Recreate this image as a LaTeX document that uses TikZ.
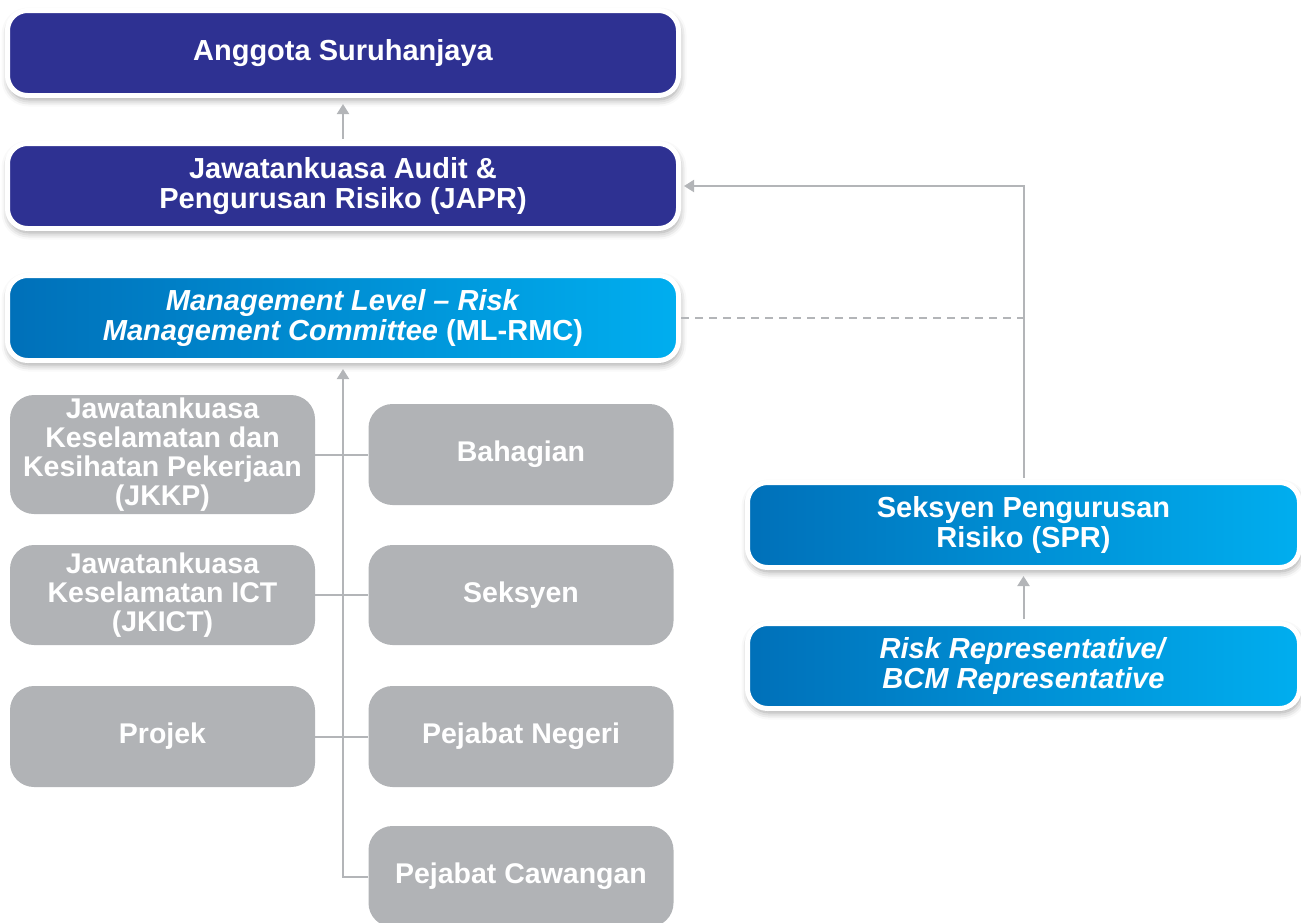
\documentclass[tikz,border=0pt]{standalone}
\usepackage{fontspec}
\setmainfont{Liberation Sans}
\usetikzlibrary{arrows.meta,shadows.blur}
\definecolor{dblue}{HTML}{2E3192}
\definecolor{gbox}{HTML}{B1B3B6}
\definecolor{bleft}{HTML}{0070B9}
\definecolor{bright}{HTML}{00AEEF}
\definecolor{lgrey}{HTML}{B3B5B8}
\tikzset{
  base/.style={align=center, text=white, font=\fontsize{29}{30}\selectfont\bfseries, inner sep=0pt},
  bluebox/.style={base, draw=white, line width=5pt, rounded corners=20pt,
    minimum width=671pt, minimum height=85pt,
    blur shadow={shadow xshift=1pt, shadow yshift=-4pt, shadow blur radius=7pt, shadow opacity=40}},
  darkbox/.style={bluebox, fill=dblue},
  gradbox/.style={bluebox, left color=bleft, right color=bright},
  greybox/.style={base, fill=gbox, rounded corners=24pt, minimum width=305pt,
    font=\fontsize{28.5}{29}\selectfont\bfseries},
  conn/.style={draw=lgrey, line width=2pt},
  arr/.style={conn, -{Triangle[width=12pt,length=10pt]}},
  dashconn/.style={conn, dash pattern=on 8pt off 6pt}
}
\begin{document}
\begin{tikzpicture}[x=1pt,y=-1pt]
\useasboundingbox (0,0) rectangle (1301,922);
% grey boxes
\node[greybox, minimum height=119pt] (jkkp) at (162.5,454.5) {Jawatankuasa\\Keselamatan dan\\Kesihatan Pekerjaan\\(JKKP)};
\node[greybox, minimum height=101pt] (bah) at (521,454.5) {Bahagian};
\node[greybox, minimum height=100pt] (jkict) at (162.5,595) {Jawatankuasa\\Keselamatan ICT\\(JKICT)};
\node[greybox, minimum height=100pt] (sek) at (521,595) {Seksyen};
\node[greybox, minimum height=101pt] (proj) at (162.5,736.5) {Projek};
\node[greybox, minimum height=101pt] (neg) at (521,736.5) {Pejabat Negeri};
\node[greybox, minimum height=101pt] (caw) at (521,876.5) {Pejabat Cawangan};
% blue boxes
\node[darkbox] (ang) at (343,53) {Anggota Suruhanjaya};
\node[darkbox] (japr) at (343,186) {Jawatankuasa Audit \&\\Pengurusan Risiko (JAPR)};
\node[gradbox] (ml) at (343,318) {\textit{Management Level – Risk}\\\textit{Management Committee} (ML-RMC)};
\node[gradbox, minimum width=552pt] (spr) at (1023.5,525) {Seksyen Pengurusan\\Risiko (SPR)};
\node[gradbox, minimum width=552pt] (rr) at (1023.5,666) {\textit{Risk Representative/}\\\textit{BCM Representative}};
% connectors
\draw[arr, shorten <=2pt, shorten >=6pt] (japr.north) -- (ang.south);
\draw[arr, shorten >=6pt] (caw.west) -| (ml.south);
\draw[conn] (jkkp.east) -- (bah.west);
\draw[conn] (jkict.east) -- (sek.west);
\draw[conn] (proj.east) -- (neg.west);
\draw[arr, shorten <=2pt, shorten >=6pt] (rr.north) -- (spr.south);
\draw[arr, shorten <=2pt, shorten >=3pt] (spr.north) |- (japr.east);
\draw[dashconn] (ml.east) -- (ml.east -| spr.north);
\end{tikzpicture}
\end{document}
